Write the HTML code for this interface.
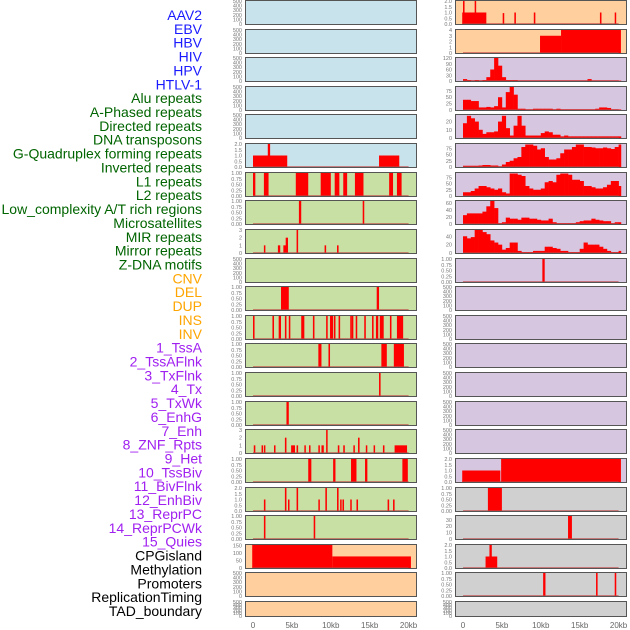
<!DOCTYPE html>
<html><head><meta charset="utf-8"><style>
html,body{margin:0;padding:0;background:#fff;width:630px;height:630px;overflow:hidden}
svg{display:block;font-family:"Liberation Sans",sans-serif}
</style></head><body>
<svg id="chart" width="630" height="630" viewBox="0 0 630 630" xmlns="http://www.w3.org/2000/svg"></svg>
<script>
const labels = ["AAV2","EBV","HBV","HIV","HPV","HTLV-1","Alu repeats","A-Phased repeats","Directed repeats","DNA transposons","G-Quadruplex forming repeats","Inverted repeats","L1 repeats","L2 repeats","Low_complexity A/T rich regions","Microsatellites","MIR repeats","Mirror repeats","Z-DNA motifs","CNV","DEL","DUP","INS","INV","1_TssA","2_TssAFlnk","3_TxFlnk","4_Tx","5_TxWk","6_EnhG","7_Enh","8_ZNF_Rpts","9_Het","10_TssBiv","11_BivFlnk","12_EnhBiv","13_ReprPC","14_ReprPCWk","15_Quies","CPGisland","Methylation","Promoters","ReplicationTiming","TAD_boundary"];
const labelGroups = [6,13,5,15,5];
const groupColors = ["#1a1aff","#006400","#ffa500","#a020f0","#000000"];
const xTicks = [0,5,10,15,20];
const xTickLabels = ["0","5kb","10kb","15kb","20kb"];
const T500 = [0,100,200,300,400,500];
const T1 = [0,0.25,0.5,0.75,1.0];
const T2 = [0,0.5,1.0,1.5,2.0];
const leftBg = ["#c8e3eb","#c8e3eb","#c8e3eb","#c8e3eb","#c8e3eb","#c8e3eb","#c9e0a5","#c9e0a5","#c9e0a5","#c9e0a5","#c9e0a5","#c9e0a5","#c9e0a5","#c9e0a5","#c9e0a5","#c9e0a5","#c9e0a5","#c9e0a5","#c9e0a5","#ffd09e","#ffd09e","#ffd09e"];
const leftMax = [500,500,500,500,500,2,1,1,3,500,1,1,1,1,1,3,1,2,1,155,500,500];
const leftTicks = [T500,T500,T500,T500,T500,T2,T1,T1,[0,1,2,3],T500,T1,T1,T1,T1,T1,[0,1,2,3],T1,T2,T1,[0,50,100,150],T500,T500];
const leftSegs = [
[],[],[],[],[],
[[0,4.4,1],[1.9,2.2,2],[16.2,18.8,1]],
[[0,0.3,1],[1.4,2.0,1],[5.5,7.1,1],[8.7,10.0,1],[10.5,11.1,1],[11.6,12.1,1],[13.1,14.2,1],[17.5,18.0,1],[18.5,19.1,1]],
[[5.9,6.2,1],[14.1,14.3,1]],
[[1.4,1.5,1],[3.2,3.5,1],[3.9,4.5,1],[4.2,4.5,2],[5.6,5.8,3],[9.2,9.4,1],[10.8,11.0,1]],
[],
[[3.6,4.6,1],[15.9,16.2,1]],
[[0,0.2,1],[2.5,2.7,1],[3.3,3.6,1],[4.1,4.3,1],[4.6,4.8,1],[6.2,6.6,1],[7.7,7.9,1],[9.4,9.6,1],[9.9,10.1,1],[10.0,10.3,1],[10.4,10.6,1],[11.0,11.2,1],[12.5,12.7,1],[12.7,12.9,1],[13.2,13.4,1],[14.3,14.5,1],[15.3,15.5,1],[15.8,16.1,1],[16.3,16.8,1],[17.6,17.8,1],[18.5,19.3,1]],
[[8.4,8.8,1],[9.7,9.9,1],[16.5,17.2,1],[18.1,19.4,1]],
[[16.2,16.4,1]],
[[4.3,4.6,1]],
[[0.1,0.3,1],[1.1,1.2,1],[1.4,1.5,1],[2.7,2.8,1],[4.1,4.3,2],[4.9,5.4,1],[5.6,5.8,1],[6.6,6.7,1],[7.2,7.3,1],[8.4,8.5,1],[8.8,9.1,1],[9.4,9.5,3],[10.9,11.1,1],[11.6,11.8,1],[12.9,13.0,1],[13.5,13.7,2],[14.5,14.6,1],[15.5,15.6,1],[16.7,16.9,1],[18.2,19.8,1]],
[[7.1,7.5,1],[10.3,10.6,1],[12.6,13.3,1],[14.4,14.7,1],[19.2,19.9,1]],
[[1.4,1.6,1],[4.1,4.3,2],[4.5,4.6,1],[5.6,5.8,2],[8.4,8.5,1],[9.3,9.5,2],[10.8,11.0,2],[11.2,11.3,1],[11.5,11.7,1],[12.5,12.6,1],[13.3,13.5,1],[17.3,17.5,1],[18.0,18.2,1]],
[[1.4,1.6,1],[7.8,8.0,1]],
[[-0.1,10.2,155],[10.2,20.3,78]],
[],[]
];
const rightBg = ["#ffd09e","#ffd09e","#d6c6e0","#d6c6e0","#d6c6e0","#d6c6e0","#d6c6e0","#d6c6e0","#d6c6e0","#d6c6e0","#d6c6e0","#d6c6e0","#d6c6e0","#d6c6e0","#d6c6e0","#d6c6e0","#d6c6e0","#d0d0d0","#d0d0d0","#d0d0d0","#d0d0d0","#d0d0d0"];
const rightMax = [2,4,120,90,28,92,92,65,55,1,500,500,500,500,500,500,2,1,36,2,1,500];
const rightTicks = [T2,[0,1,2,3,4],[0,30,60,90,120],[0,25,50,75],[0,10,20],[0,25,50,75],[0,25,50,75],[0,20,40,60],[0,20,40],T1,T500,T500,T500,T500,T500,T500,T2,T1,[0,10,20,30],T2,T1,T500];
const rightSegs = [
[[-0.1,3,1],[0,0.2,2],[1.5,1.6,2],[5.1,5.3,0.95],[6.6,6.8,1],[9.1,9.3,1],[17.6,17.8,1],[19.5,19.6,1]],
[[9.9,12.6,3],[12.6,20.3,4]],
[],[],[],[],[],[],[],
[[10.2,10.5,1]],
[],[],[],[],[],[],
[[-0.1,4.8,1],[4.9,20.3,2]],
[[3.2,5.0,1]],
[[13.5,14.0,36]],
[[2.9,4.4,1],[3.4,3.7,2]],
[[10.3,10.6,1],[17.1,17.3,1],[19.5,19.7,1]],
[]
];
const profHIV = [10,5,2,5,2,5,20,60,120,80,20,5,5,5,2,2,2,2,2,2,2,2,2,2,2,2,2,2,2,2,2,2,10,2,2,2,2,2,2,2,2];
const profAlu = [40,40,35,35,10,10,12,10,15,50,10,70,90,60,5,5,2,2,5,5,5,5,5,2,5,2,2,2,2,2,2,2,2,2,5,10,10,8,2,2,2];
const profDirected = [18,27,24,20,10,5,7,7,8,20,27,12,3,15,27,15,3,3,3,3,6,8,7,4,4,2,3,2,2,2,2,2,2,2,2,2,2,2,2,2,2];
const profGQuad = [5,5,5,5,6,8,8,6,6,2,10,20,25,35,40,80,90,90,85,70,75,40,30,30,35,55,70,70,80,90,90,80,80,78,75,75,78,75,72,80,90];
const profInverted = [15,15,20,30,40,40,35,30,25,30,15,10,90,90,85,80,40,30,25,25,30,55,60,55,85,90,90,85,65,65,60,40,40,35,30,30,35,45,60,60,40];
const profL1 = [25,30,30,30,30,35,50,65,45,2,5,18,15,15,12,18,18,15,15,12,10,10,15,5,2,2,2,2,2,5,8,10,10,15,12,10,8,8,2,5,5];
const profL2 = [40,35,38,55,55,50,45,30,25,20,8,12,25,25,5,2,2,2,5,5,5,15,15,12,10,5,5,2,2,2,10,25,20,20,20,15,10,5,2,2,5];
const rightProfiles = {2:profHIV,3:profAlu,4:profDirected,5:profGQuad,6:profInverted,7:profL1,8:profL2};

const svg = document.getElementById('chart');
const NS = "http://www.w3.org/2000/svg";
function mk(tag, attrs, parent){const e=document.createElementNS(NS,tag);for(const k in attrs)e.setAttribute(k,attrs[k]);(parent||svg).appendChild(e);return e;}
const PX_PER_KB = 7.78;
function rowTop(i){return Math.round(i*28.62);}
function rowH(i){return i===21?16:25;}
function xScale(col,kb){return (col===0?253:463)+kb*PX_PER_KB;}
function yScale(i,v,ymax){const t=rowTop(i),h=rowH(i);const y0=t+h-1,y1=t+1;return y0-(v/ymax)*(y0-y1);}

let li=0;
labelGroups.forEach((n,g)=>{for(let k=0;k<n;k++){const t=mk('text',{x:202,y:20+li*13.86,'text-anchor':'end','font-size':'14',fill:groupColors[g]});


t.textContent=labels[li];li++;}});

function drawPanel(col,i,bg,ymax,ticks,segs,prof){
  const x0=col===0?245:455,w=172,t=rowTop(i),h=rowH(i);
  const g=mk('g',{});
  
  
  mk('rect',{x:x0,y:t,width:w,height:h,fill:bg},g);
  if(prof){
    prof.forEach((v,b)=>{const s=b*0.5,e=Math.min(s+0.5,20.3);if(s>=20.3)return;
      const xa=xScale(col,s),xb=xScale(col,e),y=yScale(i,v,ymax);
      const r=mk('rect',{x:xa,y:y,width:xb-xa+0.3,height:yScale(i,0,ymax)-y,fill:'#ff0000'},g);
      
      });
  }
  segs.forEach(sg=>{const xa=xScale(col,sg[0]),xb=xScale(col,sg[1]),y=yScale(i,sg[2],ymax);
    const r=mk('rect',{x:xa,y:y,width:Math.max(xb-xa,1.5),height:yScale(i,0,ymax)-y,fill:'#ff0000'},g);
    
    });
  if(prof||segs.length){
    mk('line',{x1:xScale(col,0),x2:xScale(col,20),y1:yScale(i,0,ymax)-0.5,y2:yScale(i,0,ymax)-0.5,stroke:'#c04040','stroke-opacity':0.6,'stroke-width':1},g);
  }
  mk('rect',{x:x0+0.5,y:t+0.5,width:w-1,height:h-1,fill:'none',stroke:'#555','stroke-width':1},g);
  ticks.forEach(v=>{const y=yScale(i,v,ymax);const tx=mk('text',{x:x0-3,y:y+2,'text-anchor':'end','font-size':'5.5',fill:'#777'},g);
    
    
    tx.textContent=(ticks===T1)?v.toFixed(2):(ticks===T2?v.toFixed(1):String(v));});
}
for(let i=0;i<22;i++){
  drawPanel(0,i,leftBg[i],leftMax[i],leftTicks[i],leftSegs[i],null);
  drawPanel(1,i,rightBg[i],rightMax[i],rightTicks[i],rightSegs[i],rightProfiles[i]||null);
}
[0,1].forEach(col=>{xTicks.forEach((v,k)=>{const t=mk('text',{x:xScale(col,v),y:628,'text-anchor':'middle','font-size':'8',fill:'#666'});
  
  
  t.textContent=xTickLabels[k];});});
</script>
</body></html>
